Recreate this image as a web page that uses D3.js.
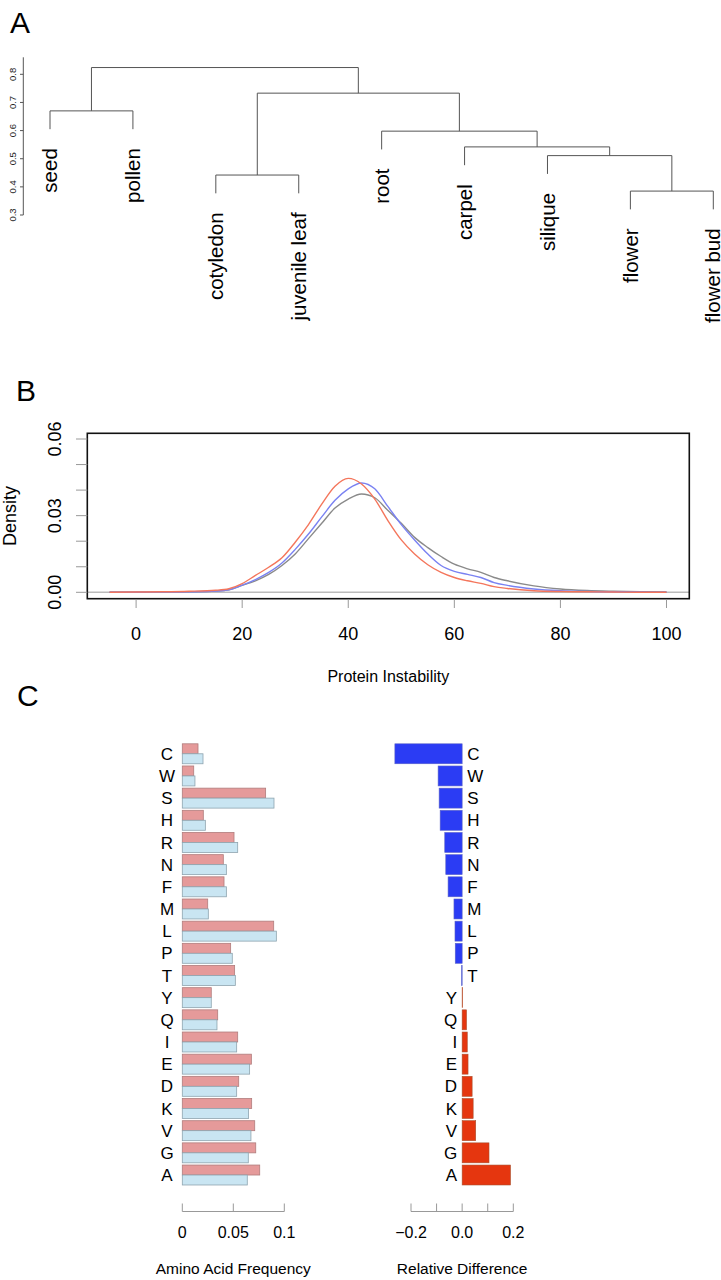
<!DOCTYPE html>
<html>
<head>
<meta charset="utf-8">
<script src="https://cdn.jsdelivr.net/npm/d3@7"></script>
<style>
  body { margin: 0; background: #fff; }
  svg { display: block; font-family: "Liberation Sans", Arial, Helvetica, sans-serif; }
</style>
</head>
<body>
<svg id="chart" width="721" height="1280"></svg>
<script>
// ---- Panel A: clustering of tissues ----
const tissues = ["seed", "pollen", "cotyledon", "juvenile leaf", "root", "carpel", "silique", "flower", "flower bud"];
// hclust-style merges: negative = leaf index, positive = earlier merge (1-based)
const mergeLeft = [-1, -3, -8, -7, -6, -5, 2, 1];
const mergeRight = [-2, -4, -9, 3, 4, 5, 6, 7];
const mergeHeight = [0.670, 0.442, 0.385, 0.511, 0.542, 0.598, 0.733, 0.824];
const dendroTicks = [0.3, 0.4, 0.5, 0.6, 0.7, 0.8];
const leafHang = 0.065;

// ---- Panel B: density of protein instability ----
const instabX = [-5, 0, 5, 10, 15, 17.5, 20, 22.5, 25, 27.5, 30, 32.5, 35, 37.5, 40, 42.5, 45, 47.5, 50, 52.5, 55, 57.5, 60, 62.5, 65, 67.5, 70, 75, 80, 85, 90, 95, 100];
const densRed = [0, 0.0001, 0.0002, 0.0004, 0.0008, 0.0014, 0.0034, 0.0066, 0.0098, 0.0135, 0.0196, 0.0265, 0.0345, 0.0415, 0.0446, 0.0424, 0.0365, 0.0280, 0.0205, 0.0150, 0.0108, 0.0078, 0.0058, 0.0045, 0.0035, 0.0022, 0.0015, 0.0006, 0.0003, 0.0002, 0.0001, 0, 0];
const densBlue = [0, 0, 0.0001, 0.0002, 0.0005, 0.0010, 0.0028, 0.0050, 0.0078, 0.0115, 0.0168, 0.0228, 0.0295, 0.0360, 0.0405, 0.0428, 0.0405, 0.0335, 0.0265, 0.0205, 0.0150, 0.0105, 0.0082, 0.0070, 0.0058, 0.0038, 0.0027, 0.0013, 0.0006, 0.0003, 0.0002, 0.0001, 0];
const densGrey = [0, 0, 0.0001, 0.0002, 0.0005, 0.0010, 0.0027, 0.0045, 0.0070, 0.0105, 0.0150, 0.0210, 0.0270, 0.0330, 0.0365, 0.0385, 0.0370, 0.0320, 0.0270, 0.0215, 0.0175, 0.0140, 0.0110, 0.0092, 0.0078, 0.0058, 0.0045, 0.0025, 0.0013, 0.0007, 0.0004, 0.0002, 0.0001];
const densYTicks = [0, 0.01, 0.02, 0.03, 0.04, 0.05, 0.06];
const densYLabels = [0, 0.03, 0.06];
const densXTicks = [0, 20, 40, 60, 80, 100];

// ---- Panel C: amino acid composition ----
const aminoAcids = ["C", "W", "S", "H", "R", "N", "F", "M", "L", "P", "T", "Y", "Q", "I", "E", "D", "K", "V", "G", "A"];
const freqRed = [0.0154, 0.0112, 0.0817, 0.0206, 0.0507, 0.0402, 0.0409, 0.0249, 0.0896, 0.0474, 0.0513, 0.0284, 0.0347, 0.0543, 0.0677, 0.0553, 0.0680, 0.0710, 0.0720, 0.0759];
const freqBlue = [0.0203, 0.0124, 0.0899, 0.0226, 0.0543, 0.0432, 0.0432, 0.0255, 0.0922, 0.0490, 0.0520, 0.0284, 0.0340, 0.0533, 0.0660, 0.0533, 0.0650, 0.0673, 0.0647, 0.0637];
const relDiff = [-0.263, -0.094, -0.090, -0.086, -0.068, -0.064, -0.055, -0.032, -0.028, -0.027, -0.002, 0.002, 0.017, 0.020, 0.023, 0.039, 0.043, 0.053, 0.105, 0.189];
const freqTicks = [0, 0.05, 0.1];
const freqTickLabels = ["0", "0.05", "0.1"];
const diffTicks = [-0.2, -0.1, 0, 0.1, 0.2];
const diffTickLabels = { "-0.2": "\u22120.2", "0": "0.0", "0.2": "0.2" };

const svg = d3.select("#chart");
svg.append("rect").attr("width", 721).attr("height", 1280).attr("fill", "#fff");

const panelLabel = (txt, x, y) =>
  svg.append("text").attr("x", x).attr("y", y).attr("font-size", 30).text(txt);

// ================= Panel A =================
panelLabel("A", 10, 33);

const xA = d3.scalePoint().domain(tissues).range([50, 713.3]);
const yA = d3.scaleLinear().domain([0.3, 0.8]).range([215, 74.3]);

// build node positions
const nodeX = [];
const nodeH = [];
const childPos = (ref) => {
  if (ref < 0) return { x: xA(tissues[-ref - 1]), h: null, leaf: -ref - 1 };
  return { x: nodeX[ref - 1], h: nodeH[ref - 1], leaf: null };
};
const dendro = svg.append("g").attr("stroke", "#555").attr("stroke-width", 1).attr("fill", "none");
mergeHeight.forEach((h, i) => {
  const l = childPos(mergeLeft[i]);
  const r = childPos(mergeRight[i]);
  nodeX[i] = (l.x + r.x) / 2;
  nodeH[i] = h;
  const lBottom = l.h == null ? h - leafHang : l.h;
  const rBottom = r.h == null ? h - leafHang : r.h;
  dendro.append("path")
    .attr("d", `M${l.x},${yA(lBottom)}V${yA(h)}H${r.x}V${yA(rBottom)}`);
  [l, r].forEach((c) => {
    if (c.leaf == null) return;
    svg.append("text")
      .attr("transform", `translate(${c.x},${yA(h - leafHang) + 19}) rotate(-90)`)
      .attr("text-anchor", "end")
      .attr("dy", "0.35em")
      .attr("font-size", 20.5)
      .text(tissues[c.leaf]);
  });
});

// y axis of dendrogram
const axA = svg.append("g").attr("stroke", "#555");
axA.append("line").attr("x1", 23.3).attr("x2", 23.3).attr("y1", 57.3).attr("y2", yA(0.3));
dendroTicks.forEach((t) => {
  axA.append("line").attr("x1", 20).attr("x2", 23.3).attr("y1", yA(t)).attr("y2", yA(t));
  svg.append("text")
    .attr("transform", `translate(13,${yA(t)}) rotate(-90)`)
    .attr("text-anchor", "middle")
    .attr("dy", "0.35em")
    .attr("font-size", 9.5)
    .attr("fill", "#222")
    .text(t.toFixed(1));
});

// ================= Panel B =================
panelLabel("B", 16, 401);

const xB = d3.scaleLinear().domain([-9.2, 104.3]).range([87.3, 689.3]);
const yB = d3.scaleLinear().domain([0, 0.06]).range([592.3, 439]);
const boxTop = 433.3, boxBottom = 598.7;

// zero line
svg.append("line")
  .attr("x1", xB.range()[0]).attr("x2", xB.range()[1])
  .attr("y1", yB(0)).attr("y2", yB(0))
  .attr("stroke", "#bbb").attr("stroke-width", 1.5);

const lineB = d3.line()
  .curve(d3.curveMonotoneX)
  .x((d) => xB(d[0]))
  .y((d) => yB(d[1]));

[
  [densGrey, "#8a8a8a"],
  [densBlue, "#7a82f2"],
  [densRed, "#f4765c"],
].forEach(([vals, col]) => {
  svg.append("path")
    .datum(instabX.map((x, i) => [x, vals[i]]))
    .attr("d", lineB)
    .attr("fill", "none")
    .attr("stroke", col)
    .attr("stroke-width", 1.4);
});

svg.append("rect")
  .attr("x", 87.3).attr("y", boxTop)
  .attr("width", 689.3 - 87.3).attr("height", boxBottom - boxTop)
  .attr("fill", "none").attr("stroke", "#111").attr("stroke-width", 1.6);

densYTicks.forEach((t) => {
  svg.append("line")
    .attr("x1", 76).attr("x2", 87.3).attr("y1", yB(t)).attr("y2", yB(t))
    .attr("stroke", "#999");
});
densYLabels.forEach((t) => {
  svg.append("text")
    .attr("transform", `translate(55,${yB(t)}) rotate(-90)`)
    .attr("text-anchor", "middle")
    .attr("dy", "0.35em")
    .attr("font-size", 18)
    .text(t.toFixed(2));
});
densXTicks.forEach((t) => {
  svg.append("line")
    .attr("x1", xB(t)).attr("x2", xB(t)).attr("y1", boxBottom + 1).attr("y2", 608)
    .attr("stroke", "#999");
  svg.append("text")
    .attr("x", xB(t)).attr("y", 640)
    .attr("text-anchor", "middle")
    .attr("font-size", 18)
    .text(t);
});
svg.append("text")
  .attr("x", (87.3 + 689.3) / 2).attr("y", 682)
  .attr("text-anchor", "middle").attr("font-size", 16)
  .text("Protein Instability");
svg.append("text")
  .attr("transform", `translate(10,${(boxTop + boxBottom) / 2}) rotate(-90)`)
  .attr("text-anchor", "middle").attr("dy", "0.35em").attr("font-size", 18)
  .text("Density");

// ================= Panel C =================
panelLabel("C", 17, 706);

const yC = d3.scaleBand().domain(aminoAcids).range([742.7, 1186.1]).paddingInner(0.1).paddingOuter(0.05);
const yInner = d3.scaleBand().domain(["red", "blue"]).range([0, yC.bandwidth()]);
const xFreq = d3.scaleLinear().domain([0, 0.1]).range([182.3, 284.3]);
const xDiff = d3.scaleLinear().domain([-0.2, 0.2]).range([411, 513.3]);

const freqRows = aminoAcids.map((aa, i) => ({ aa, red: freqRed[i], blue: freqBlue[i], diff: relDiff[i] }));

const leftG = svg.append("g");
const groups = leftG.selectAll("g.aa").data(freqRows).join("g")
  .attr("class", "aa")
  .attr("transform", (d) => `translate(0,${yC(d.aa)})`);
groups.append("rect")
  .attr("x", xFreq(0)).attr("y", yInner("red"))
  .attr("width", (d) => xFreq(d.red) - xFreq(0)).attr("height", yInner.bandwidth())
  .attr("fill", "#e59a9a").attr("stroke", "#b07c7c").attr("stroke-width", 0.8);
groups.append("rect")
  .attr("x", xFreq(0)).attr("y", yInner("blue"))
  .attr("width", (d) => xFreq(d.blue) - xFreq(0)).attr("height", yInner.bandwidth())
  .attr("fill", "#c9e5f2").attr("stroke", "#8ea4af").attr("stroke-width", 0.8);
groups.append("text")
  .attr("x", 167).attr("y", yC.bandwidth() / 2)
  .attr("dy", "0.36em").attr("text-anchor", "middle").attr("font-size", 17)
  .text((d) => d.aa);

// bottom axes: baseline under the ticks, ticks pointing up
const axisY = 1211.5;
const tickLen = 8;
svg.append("line").attr("x1", xFreq(0)).attr("x2", xFreq(0.1)).attr("y1", axisY).attr("y2", axisY).attr("stroke", "#999");
freqTicks.forEach((t, i) => {
  svg.append("line").attr("x1", xFreq(t)).attr("x2", xFreq(t)).attr("y1", axisY - tickLen).attr("y2", axisY).attr("stroke", "#999");
  svg.append("text").attr("x", xFreq(t)).attr("y", 1238).attr("text-anchor", "middle").attr("font-size", 16).text(freqTickLabels[i]);
});
svg.append("text").attr("x", xFreq(0.05)).attr("y", 1274).attr("text-anchor", "middle").attr("font-size", 15.5).text("Amino Acid Frequency");

const rightG = svg.append("g");
const rows = rightG.selectAll("g.diff").data(freqRows).join("g")
  .attr("class", "diff")
  .attr("transform", (d) => `translate(0,${yC(d.aa)})`);
rows.append("rect")
  .attr("x", (d) => xDiff(Math.min(0, d.diff)))
  .attr("y", 0)
  .attr("width", (d) => Math.abs(xDiff(d.diff) - xDiff(0)))
  .attr("height", yC.bandwidth())
  .attr("fill", (d) => (d.diff < 0 ? "#2b3cf4" : "#e5360f"))
  .attr("stroke", (d) => (d.diff < 0 ? "#5a62c8" : "#a8502e"))
  .attr("stroke-width", 0.6);
rows.append("text")
  .attr("x", (d) => (d.diff < 0 ? xDiff(0) + 5 : xDiff(0) - 5))
  .attr("y", yC.bandwidth() / 2)
  .attr("dy", "0.36em")
  .attr("text-anchor", (d) => (d.diff < 0 ? "start" : "end"))
  .attr("font-size", 17)
  .text((d) => d.aa);

svg.append("line").attr("x1", xDiff(-0.2)).attr("x2", xDiff(0.2)).attr("y1", axisY).attr("y2", axisY).attr("stroke", "#999");
diffTicks.forEach((t) => {
  svg.append("line").attr("x1", xDiff(t)).attr("x2", xDiff(t)).attr("y1", axisY - tickLen).attr("y2", axisY).attr("stroke", "#999");
  const lab = diffTickLabels[String(t)];
  if (lab) svg.append("text").attr("x", xDiff(t)).attr("y", 1238).attr("text-anchor", "middle").attr("font-size", 16).text(lab);
});
svg.append("text").attr("x", xDiff(0)).attr("y", 1274).attr("text-anchor", "middle").attr("font-size", 15.5).text("Relative Difference");
</script>
</body>
</html>
